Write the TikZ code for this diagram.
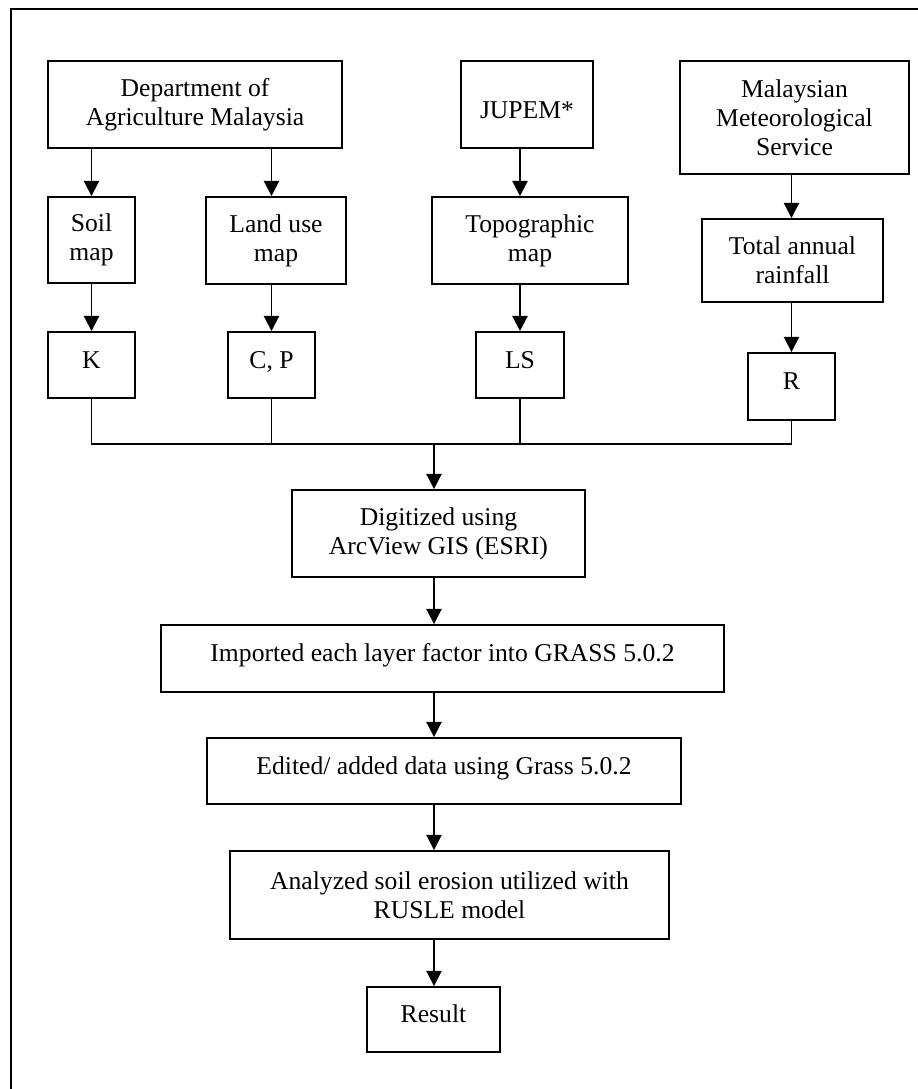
\documentclass[tikz,border=0pt]{standalone}
\usepackage{fontspec}
\setmainfont{Liberation Serif}
\usetikzlibrary{arrows.meta}
\usetikzlibrary{positioning}

\tikzset{
  blk/.style={draw,rectangle,line width=0.9pt,align=center,inner sep=0pt},
  sz/.style 2 args={minimum width=#1*0.476pt,minimum height=#2*0.476pt},
  oneline/.style={text height=7.9pt,text depth=5pt},
  arr/.style={line width=0.9pt,-{Triangle[width=7.2pt,length=7.2pt]}},
  bus/.style={line width=0.9pt}
}

\begin{document}
\begin{tikzpicture}[x=0.476pt,y=-0.476pt,font=\fontsize{12.2}{13.8}\selectfont]

  \useasboundingbox (0,0) rectangle (918,1089);

  % outer frame (only top and left edges show)
  \coordinate (frameTL) at (11,9);
  \draw [line width=1.1pt] (11,1089) -- (frameTL) -- (918,9);

  % sources
  \node [blk,sz={294}{87}] (dept) at (195,104.5) {Department of\\Agriculture Malaysia};
  \node [blk,sz={132}{87},text height=13pt,text depth=0pt] (jupem) at (527,104.5) {JUPEM*};
  \node [blk,sz={229}{113}] (met) at (794.5,117.5) {Malaysian\\Meteorological\\Service};

  % maps
  \node [blk,sz={87}{86}] (soil) at (91.5,240) {Soil\\map};
  \node [blk,sz={140}{87}] (landuse) at (276,240.5) {Land use\\map};
  \node [blk,sz={196}{87}] (topo) at (530,240.5) {Topographic\\map};
  \node [blk,sz={181}{83}] (rain) at (792.5,260.5) {Total annual\\rainfall};

  % factors
  \node [blk,sz={87}{66},oneline] (k) at (91.5,365) {K};
  \node [blk,sz={87}{66},oneline] (cp) at (271.5,365) {C, P};
  \node [blk,sz={88}{66},oneline] (ls) at (520,365) {LS};
  \node [blk,sz={87}{67},oneline] (r) at (791.5,386.5) {R};

  \coordinate (bus) at (434,444);

  % processing
  \node [blk,sz={293}{87}] (digit) at (438.5,533.5) {Digitized using\\ArcView GIS (ESRI)};
  \node [blk,sz={563}{67},oneline] (import) at (442.5,658.5) {Imported each layer factor into GRASS 5.0.2};
  \node [blk,sz={474}{66},oneline] (edit) at (444,771) {Edited/ added data using Grass 5.0.2};
  \node [blk,sz={439}{88}] (analyze) at (449.5,895) {Analyzed soil erosion utilized with\\RUSLE model};
  \node [blk,sz={133}{65},oneline] (result) at (433.5,1019.5) {Result};

  \path [arr]
    (soil |- dept.south) edge (soil.north)
    (cp |- dept.south) edge (cp |- landuse.north)
    (soil.south) edge (k.north)
    (cp |- landuse.south) edge (cp.north)
    (ls |- jupem.south) edge (ls |- topo.north)
    (ls |- topo.south) edge (ls.north)
    (r |- met.south) edge (r |- rain.north)
    (r |- rain.south) edge (r.north);

  \draw [bus] (k.south) -- (k |- bus) -- (r |- bus) -- (r.south);
  \draw [bus] (cp.south) -- (cp |- bus);
  \draw [bus] (ls.south) -- (ls |- bus);

  \path [arr]
    (bus) edge (bus |- digit.north)
    (bus |- digit.south) edge (bus |- import.north)
    (bus |- import.south) edge (bus |- edit.north)
    (bus |- edit.south) edge (bus |- analyze.north)
    (bus |- analyze.south) edge (bus |- result.north);

\end{tikzpicture}
\end{document}
